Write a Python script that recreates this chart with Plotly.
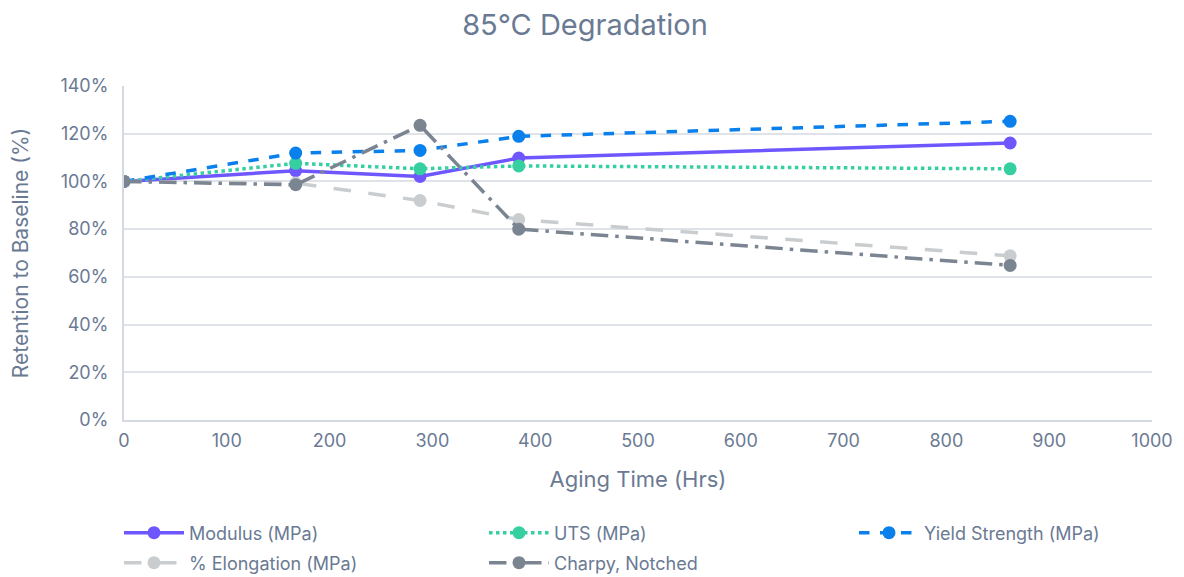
import plotly.graph_objects as go

hours = [0, 167, 288, 384, 862]
modulus = [100, 104.5, 102.1, 109.8, 116.1]
uts = [100, 107.6, 105.3, 106.5, 105.3]
yield_strength = [100, 111.9, 113.0, 118.9, 125.2]
elongation = [100, 99.3, 92.0, 84.0, 68.8]
charpy = [100, 98.6, 123.5, 80.0, 64.8]

# name, values, colour, dash, legend slot
series = [
    ("Modulus (MPa)", modulus, "#6E57FF", "solid", "legend"),
    ("UTS (MPa)", uts, "#36CFA1", "dot", "legend2"),
    ("Yield Strength (MPa)", yield_strength, "#0A80EC", "dash", "legend3"),
    ("% Elongation (MPa)", elongation, "#C9CDCF", "longdash", "legend4"),
    ("Charpy, Notched", charpy, "#7B8592", "longdashdot", "legend5"),
]

text_color = "#6A7A93"
font_family = "Inter, Open Sans, sans-serif"
W, H = 1176, 569

fig = go.Figure()
for name, vals, color, dash, leg in series:
    fig.add_trace(go.Scatter(
        x=hours, y=vals, name=name, mode="lines+markers",
        line=dict(color=color, width=3.5, dash=dash),
        marker=dict(color=color, size=13),
        legend=leg,
    ))

def legend_at(x_px, y_px):
    return dict(
        orientation="h", xref="container", yref="container",
        x=x_px / W, xanchor="left", y=(H - y_px) / H, yanchor="middle",
        font=dict(size=18, color=text_color),
        itemwidth=60, bgcolor="rgba(0,0,0,0)",
    )

fig.update_layout(
    width=W, height=H,
    paper_bgcolor="white", plot_bgcolor="white",
    margin=dict(l=116, r=32, t=78, b=157),
    font=dict(family=font_family, color=text_color, size=18),
    title=dict(text="85°C Degradation", x=577 / W, xanchor="center", xref="container",
               y=(H - 17) / H, yanchor="middle", yref="container",
               font=dict(size=29, color=text_color)),
    xaxis=dict(
        range=[0, 1000], dtick=100, tick0=0, showgrid=False,
        showline=True, linecolor="#D5D9E0", linewidth=2,
        ticks="", tickfont=dict(size=18, color=text_color), ticklabelstandoff=3,
        title=dict(text="Aging Time (Hrs)", font=dict(size=22, color=text_color), standoff=22),
        zeroline=False, automargin=False,
    ),
    yaxis=dict(
        range=[0, 140], dtick=20, tick0=0, ticksuffix="%",
        showgrid=True, gridcolor="#DFE2E8", gridwidth=1.5,
        showline=True, linecolor="#D5D9E0", linewidth=2,
        ticks="", tickfont=dict(size=18, color=text_color), ticklabelstandoff=10,
        title=dict(text="Retention to Baseline (%)", font=dict(size=21, color=text_color), standoff=28),
        zeroline=False, automargin=False,
    ),
    legend=legend_at(111, 525),
    legend2=legend_at(476, 525),
    legend3=legend_at(846, 525),
    legend4=legend_at(111, 555),
    legend5=legend_at(476, 555),
    showlegend=True,
)

fig.write_html("out.html")
